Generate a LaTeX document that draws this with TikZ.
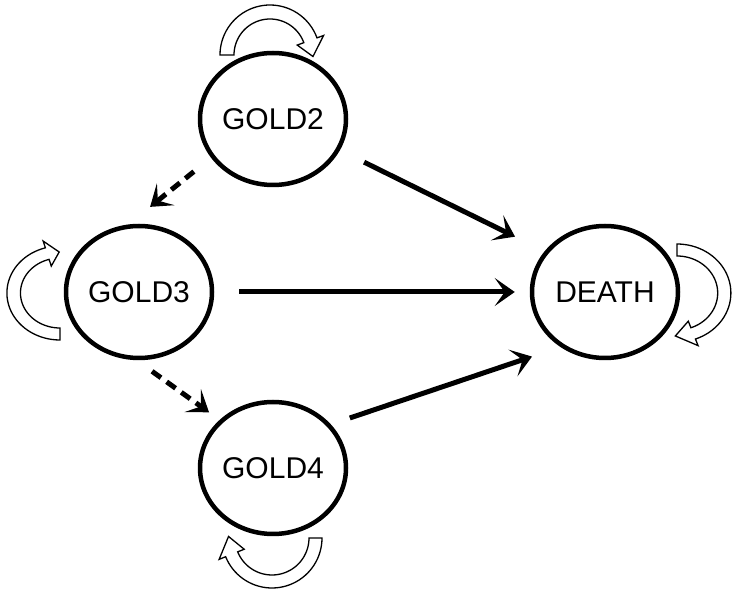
\documentclass[tikz,border=0pt]{standalone}
\usepackage{fontspec}
\setmainfont{Liberation Sans}
\usetikzlibrary{arrows.meta,shapes.geometric}
\tikzset{
  every picture/.style={line join=round, >=Stealth},
  state/.style={ellipse, draw, line width=4.5pt, minimum width=146pt, minimum height=132pt,
    inner sep=0pt, font=\fontsize{30}{36}\selectfont},
  solidedge/.style={->, line width=5pt, >={Stealth[length=20pt,width=28pt,inset=10pt]}},
  dashedge/.style={solidedge, dash pattern=on 11pt off 7pt},
  loopband/.style={draw, line width=1.3pt, fill=white, line join=miter},
}
% centre x, centre y, inner r, outer r, start angle, end angle, tip angle, xscale
\newcommand{\hollowloop}[8]{%
  \begin{scope}[shift={(#1,#2)},xscale=#8]
    \draw[loopband] plot[domain=#5:#6,samples=40] ({#4*cos(\x)},{#4*sin(\x)})
      -- ({(#4+7)*cos(#6)},{(#4+7)*sin(#6)})
      -- ({(#3+#4)/2*cos(#7)},{(#3+#4)/2*sin(#7)})
      -- ({(#3-7)*cos(#6)},{(#3-7)*sin(#6)})
      -- plot[domain=#6:#5,samples=40] ({#3*cos(\x)},{#3*sin(\x)}) -- cycle;
  \end{scope}}

\begin{document}
\begin{tikzpicture}[x=1pt,y=1pt]
\useasboundingbox (0,0) rectangle (737,595);
\node[state] (gold2) at (273,476) {GOLD2};
\node[state] (gold3) at (139,303) {GOLD3};
\node[state] (gold4) at (273,127) {GOLD4};
\node[state] (death) at (605,303) {DEATH};

\draw[solidedge, shorten <=27pt, shorten >=33pt] (gold2.-25) -- (death.146);
\draw[solidedge, shorten <=25pt, shorten >=15pt] (gold3.east) -- (death.west);
\draw[solidedge, shorten <=20pt, shorten >=30pt] (gold4.37) -- (death.231);
\draw[dashedge, shorten <=22pt, shorten >=28pt] (gold2.212) -- (gold3.99);
\draw[dashedge, shorten <=19pt, shorten >=13pt] (gold3.-92) -- (gold4.138);

\hollowloop{270}{540}{36}{50}{180}{20}{-2}{1}
\hollowloop{60}{302}{35}{47}{270}{106}{91}{1.13}
\hollowloop{677}{302}{37}{49}{90}{-70}{-92}{1.1}
\hollowloop{272}{57}{37}{50}{0}{-158}{-182}{1}
\end{tikzpicture}
\end{document}
